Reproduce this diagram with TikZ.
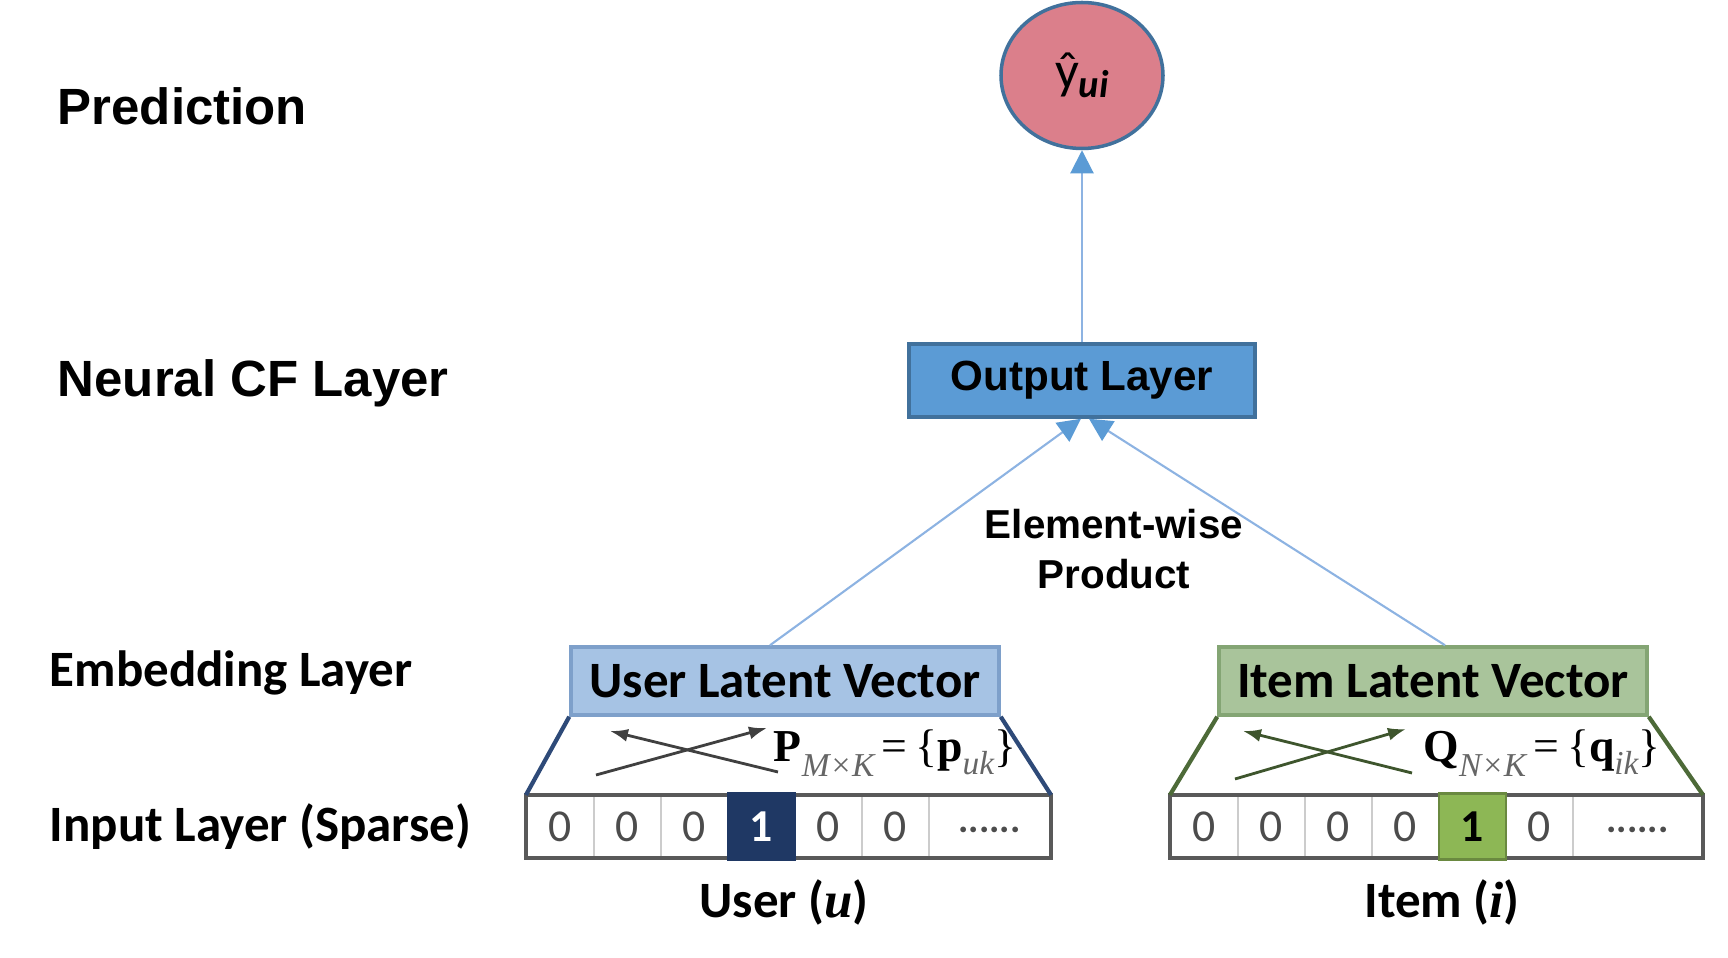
\documentclass[tikz,border=0pt]{standalone}
\usepackage{xcolor}
\usepackage{fontspec}
\usepackage{tikz}
\usetikzlibrary{positioning,arrows.meta,shapes.geometric}
\newfontfamily\arialfont{Liberation Sans}
\newfontfamily\calfont{Carlito}
\newfontfamily\timesfont{Liberation Serif}
\definecolor{predfill}{HTML}{DB7F8B}
\definecolor{outfill}{HTML}{5B9BD5}
\definecolor{outedge}{HTML}{41719C}
\definecolor{linkblue}{HTML}{8DB3E2}
\definecolor{userfill}{HTML}{A6C3E4}
\definecolor{useredge}{HTML}{7EA0CA}
\definecolor{itemfill}{HTML}{A9C49B}
\definecolor{itemedge}{HTML}{84A574}
\definecolor{userdark}{HTML}{2E4A78}
\definecolor{itemdark}{HTML}{4D6A38}
\definecolor{onenavy}{HTML}{1F3864}
\definecolor{onegreen}{HTML}{8DB755}
\begin{document}
\begin{tikzpicture}[node distance=0.67cm,on grid,line width=0.6pt,
	layer/.style={anchor=west,font=\arialfont\bfseries\fontsize{14.5}{17}\selectfont},
	sublayer/.style={anchor=west,font=\calfont\bfseries\fontsize{14.5}{17}\selectfont},
	pred/.style={ellipse,draw=outedge,fill=predfill,line width=1pt,minimum width=1.62cm,minimum height=1.46cm,inner sep=0pt},
	outbox/.style={rectangle,draw=outedge,fill=outfill,line width=1pt,minimum width=3.46cm,minimum height=0.73cm,font=\arialfont\bfseries\fontsize{12}{14}\selectfont},
	vecbox/.style={rectangle,line width=1pt,minimum width=4.28cm,minimum height=0.68cm,font=\calfont\bfseries\fontsize{14.5}{17}\selectfont},
	cell/.style={rectangle,draw=gray!40,minimum width=0.67cm,minimum height=0.61cm,font=\calfont\fontsize{13}{15}\selectfont,text=black!70},
	dotcell/.style={cell,font=\calfont\bfseries\fontsize{11}{12}\selectfont},
	hotcell/.style={cell,minimum height=0.66cm,font=\calfont\bfseries\fontsize{13}{15}\selectfont},
	link/.style={draw=linkblue,-{Triangle[length=2.3mm,width=2.3mm,color=outfill]}},
	cross/.style={line width=0.8pt,-{Latex[length=1.8mm,width=1.3mm]}},
	formula/.style={font=\timesfont\fontsize{13}{15}\selectfont}]
	\useasboundingbox (0,0) rectangle (17.28,9.58);
	\node[layer] (lpred) at (0.45,8.52) {Prediction};
	\node[layer] (lncf) at (0.45,5.75) {Neural CF Layer};
	\node[sublayer] (lemb) at (0.37,2.85) {Embedding Layer};
	\node[sublayer] (linp) at (0.37,1.31) {Input Layer (Sparse)};
	\node[outbox] (out) at (10.82,5.775) {Output Layer};
	\node[pred] (yhat) [above=3.05cm of out] {{\calfont\fontsize{15}{15}\selectfont ŷ}{\calfont\bfseries\itshape\fontsize{11}{11}\selectfont\raisebox{-0.45ex}{ui}}};
	\node[align=center,font=\arialfont\bfseries\fontsize{11.5}{14}\selectfont] (ewp) at (11.14,4.09) {Element-wise\\Product};
	\node[vecbox,draw=useredge,fill=userfill] (user) at (7.85,2.77) {User Latent Vector};
	\node[vecbox,draw=itemedge,fill=itemfill] (item) at (14.33,2.77) {Item Latent Vector};
	\node[cell] (u1) at (5.605,1.315) {0};
	\node[cell] (u2) [right=of u1] {0};
	\node[cell] (u3) [right=of u2] {0};
	\node[cell] (u4) [right=of u3] {};
	\node[cell] (u5) [right=of u4] {0};
	\node[cell] (u6) [right=of u5] {0};
	\node[dotcell,minimum width=1.21cm] (u7) [right=0.94cm of u6] {\raisebox{-0.7ex}{......}};
	\node[cell] (i1) at (12.045,1.315) {0};
	\node[cell] (i2) [right=of i1] {0};
	\node[cell] (i3) [right=of i2] {0};
	\node[cell] (i4) [right=of i3] {0};
	\node[cell] (i5) [right=of i4] {};
	\node[cell] (i6) [right=of i5] {0};
	\node[dotcell,minimum width=1.29cm] (i7) [right=0.98cm of i6] {\raisebox{-0.7ex}{......}};
	\draw[gray!70!black,line width=0.9pt] (u1.north west) rectangle (u7.south east);
	\draw[gray!70!black,line width=0.9pt] (i1.north west) rectangle (i7.south east);
	\node[hotcell,draw=onenavy,fill=onenavy,text=white] (uhot) at (u4) {1};
	\node[hotcell,draw=onegreen!75!black,fill=onegreen,text=black] (ihot) at (i5) {1};
	\draw[userdark,line width=1.2pt] (user.south west) -- (u1.north west) (user.south east) -- (u7.north east);
	\draw[itemdark,line width=1.2pt] (item.south west) -- (i1.north west) (item.south east) -- (i7.north east);
	\draw[cross,black!75] (5.96,1.83) -- (7.67,2.30);
	\draw[cross,black!75] (7.78,1.86) -- (6.10,2.27);
	\draw[cross,itemdark!80!black] (12.35,1.79) -- (14.06,2.29);
	\draw[cross,itemdark!80!black] (14.12,1.85) -- (12.43,2.27);
	\node[formula] (pform) at (8.95,2.05) {\textbf{P}\raisebox{-0.7ex}{\fontsize{9.5}{10}\selectfont\itshape\color{black!60}M×K}\,=\,\{\textbf{p}\raisebox{-0.6ex}{\fontsize{9.5}{10}\selectfont\itshape\color{black!60}uk}\}};
	\node[formula] (qform) at (15.42,2.05) {\textbf{Q}\raisebox{-0.7ex}{\fontsize{9.5}{10}\selectfont\itshape\color{black!60}N×K}\,=\,\{\textbf{q}\raisebox{-0.6ex}{\fontsize{9.5}{10}\selectfont\itshape\color{black!60}ik}\}};
	\node[font=\calfont\bfseries\fontsize{14.5}{17}\selectfont] (ulab) at (7.84,0.56) {User ({\timesfont\itshape u})};
	\node[font=\calfont\bfseries\fontsize{14.5}{17}\selectfont] (ilab) at (14.42,0.56) {Item ({\timesfont\itshape i})};
	\path
	([xshift=-0.15cm]user.north) edge[link] ([xshift=-0.01cm]out.south)
	([xshift=0.12cm]item.north) edge[link] ([xshift=0.07cm]out.south)
	(out) edge[link] (yhat);
\end{tikzpicture}
\end{document}
